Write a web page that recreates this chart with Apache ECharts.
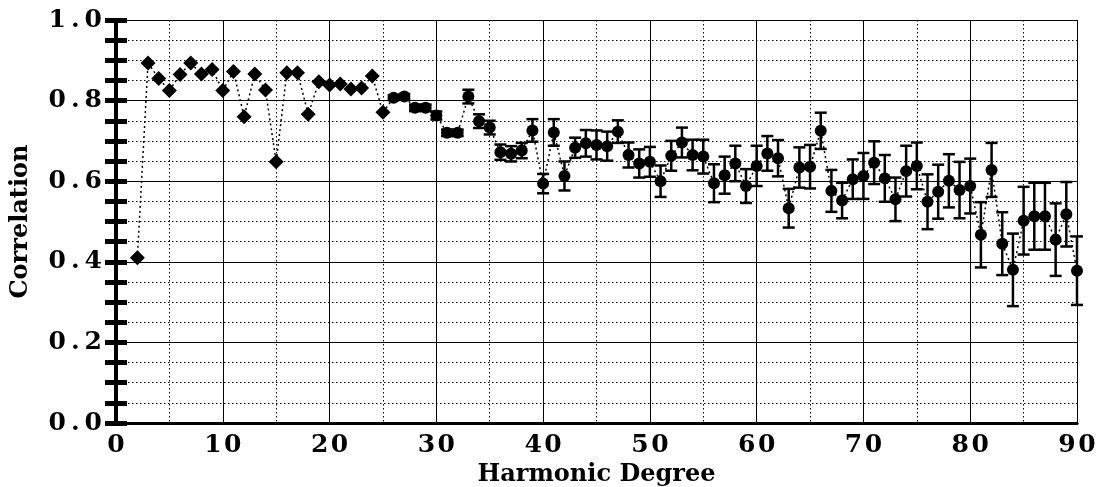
<!DOCTYPE html>
<html>
<head>
<meta charset="utf-8">
<script src="https://cdn.jsdelivr.net/npm/echarts@6/dist/echarts.min.js"></script>
<style>
html,body{margin:0;padding:0;background:#fff;}
#chart{width:1100px;height:487px;}
</style>
</head>
<body>
<div id="chart"></div>
<script>
const degrees = [2,3,4,5,6,7,8,9,10,11,12,13,14,15,16,17,18,19,20,21,22,23,24,25,26,27,28,29,30,31,32,33,34,35,36,37,38,39,40,41,42,43,44,45,46,47,48,49,50,51,52,53,54,55,56,57,58,59,60,61,62,63,64,65,66,67,68,69,70,71,72,73,74,75,76,77,78,79,80,81,82,83,84,85,86,87,88,89,90];
const correlation = [0.410,0.893,0.855,0.825,0.865,0.893,0.866,0.877,0.825,0.872,0.760,0.866,0.826,0.648,0.869,0.869,0.766,0.847,0.839,0.841,0.829,0.831,0.861,0.771,0.807,0.810,0.782,0.782,0.763,0.720,0.720,0.810,0.749,0.733,0.672,0.668,0.676,0.726,0.594,0.721,0.613,0.683,0.694,0.690,0.687,0.723,0.665,0.644,0.648,0.600,0.663,0.696,0.665,0.661,0.595,0.615,0.644,0.588,0.638,0.669,0.657,0.533,0.634,0.636,0.725,0.576,0.552,0.605,0.613,0.646,0.607,0.555,0.625,0.638,0.549,0.574,0.601,0.578,0.588,0.467,0.628,0.445,0.380,0.502,0.513,0.513,0.455,0.518,0.378];
const errors = [0,0,0,0,0,0,0,0,0,0,0,0,0,0,0,0,0,0,0,0,0,0,0,0,0.006,0.006,0.008,0.008,0.010,0.008,0.008,0.017,0.017,0.017,0.019,0.019,0.019,0.028,0.024,0.033,0.036,0.025,0.033,0.036,0.036,0.028,0.031,0.035,0.037,0.039,0.037,0.037,0.038,0.042,0.047,0.046,0.044,0.042,0.050,0.043,0.045,0.048,0.050,0.054,0.045,0.052,0.044,0.049,0.057,0.053,0.058,0.054,0.063,0.058,0.068,0.067,0.066,0.070,0.068,0.081,0.067,0.078,0.090,0.084,0.083,0.083,0.090,0.080,0.085];
const xTicks = [0,10,20,30,40,50,60,70,80,90];
const yTicks = [0.0,0.2,0.4,0.6,0.8,1.0];

const FONT = '"DejaVu Serif","Liberation Serif",serif';
const lineData = degrees.map((d,i)=>[d, correlation[i]]);
const errData = degrees.map((d,i)=>[d, correlation[i]-errors[i], correlation[i]+errors[i]]);
const spaced = (s, sep) => s.split('').join(sep);

const chart = echarts.init(document.getElementById('chart'));
const commonY = {
  type:'value', min:yTicks[0], max:yTicks[yTicks.length-1], interval:0.2,
  axisLine:{show:true,lineStyle:{color:'#000',width:4}},
  axisTick:{show:true,inside:true,length:11,lineStyle:{color:'#000',width:5}},
  minorTick:{show:true,splitNumber:4,length:11,lineStyle:{color:'#000',width:5}}
};
chart.setOption({
  animation:false,
  backgroundColor:'#fff',
  grid:{left:116,right:23,top:20,bottom:64,containLabel:false,outerBoundsMode:'none'},
  xAxis:[{
    type:'value', min:xTicks[0], max:xTicks[xTicks.length-1], interval:10,
    name:'Harmonic Degree', nameLocation:'middle', nameGap:37,
    nameTextStyle:{fontFamily:FONT,fontWeight:'bold',fontSize:24,color:'#000'},
    axisLine:{show:true,lineStyle:{color:'#000',width:3}},
    axisTick:{show:false},
    axisLabel:{show:true,margin:10,fontFamily:FONT,fontWeight:'bold',fontSize:25,color:'#000',
      formatter:v=>xTicks.includes(v)?spaced(String(v),'\u200a'):''},
    splitLine:{show:true,lineStyle:{color:'#000',width:1}},
    minorTick:{show:false,splitNumber:2},
    minorSplitLine:{show:true,lineStyle:{color:'#000',width:1,type:[1.5,2.5]}}
  },{
    type:'value', min:0, max:90, position:'top',
    axisLine:{show:true,lineStyle:{color:'#000',width:2.5}},
    axisTick:{show:false}, axisLabel:{show:false}, splitLine:{show:false}
  }],
  yAxis:[Object.assign({}, commonY, {
    position:'left',
    name:'Correlation', nameLocation:'middle', nameGap:83, nameRotate:90,
    nameTextStyle:{fontFamily:FONT,fontWeight:'bold',fontSize:24,color:'#000'},
    axisLabel:{show:true,margin:14,fontFamily:FONT,fontWeight:'bold',fontSize:25,color:'#000',
      formatter:v=>spaced(v.toFixed(1),'\u2009')},
    splitLine:{show:true,lineStyle:{color:'#000',width:1}},
    minorSplitLine:{show:true,lineStyle:{color:'#000',width:1,type:[1.5,2.5]}}
  }), Object.assign({}, commonY, {
    position:'right',
    axisLabel:{show:false}, splitLine:{show:false}, minorSplitLine:{show:false}
  })],
  series:[{
    type:'custom',
    data:errData,
    encode:{x:0,y:[1,2]},
    z:3,
    renderItem:(params, api)=>{
      const x = api.value(0), lo = api.value(1), hi = api.value(2);
      if (hi - lo < 0.001) return null;
      const p1 = api.coord([x, lo]), p2 = api.coord([x, hi]);
      const w = 6;
      const st = {stroke:'#000', lineWidth:2.5};
      return {type:'group', children:[
        {type:'line', shape:{x1:p1[0],y1:p1[1],x2:p2[0],y2:p2[1]}, style:st},
        {type:'line', shape:{x1:p1[0]-w,y1:p1[1],x2:p1[0]+w,y2:p1[1]}, style:st},
        {type:'line', shape:{x1:p2[0]-w,y1:p2[1],x2:p2[0]+w,y2:p2[1]}, style:st}
      ]};
    }
  },{
    type:'line',
    data:lineData,
    z:4,
    symbol:(v)=> v[0] <= 25 ? 'diamond' : 'circle',
    symbolSize:(v)=> v[0] <= 25 ? 15 : 12,
    itemStyle:{color:'#000'},
    lineStyle:{color:'#000',width:1.5,type:[2,3]}
  }]
});
</script>
</body>
</html>
